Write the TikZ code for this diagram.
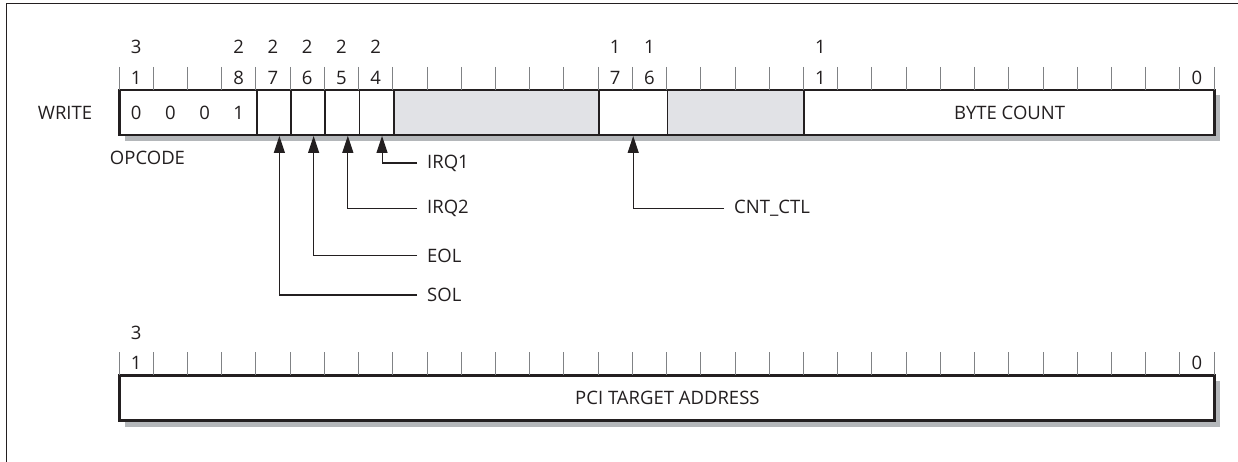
\documentclass[tikz,border=0pt]{standalone}
\usepackage{fontspec}
\setmainfont{Open Sans}
\usetikzlibrary{arrows.meta}
\definecolor{ink}{HTML}{231F20}
\definecolor{shade}{HTML}{B4B7BA}
\definecolor{resv}{HTML}{E1E2E6}
\definecolor{tickc}{HTML}{808285}
\tikzset{
  lbl/.style={font=\fontsize{18.5}{21}\selectfont, text=ink, inner sep=0pt},
  field/.style={draw=ink, line width=1.8pt, minimum height=45pt, inner sep=0pt, anchor=west, fill=white},
  resfield/.style={field, fill=resv},
  outline/.style={draw=ink, line width=2.8pt},
  shadowbox/.style={fill=shade},
  tick/.style={draw=tickc, line width=0.9pt},
  arr/.style={draw=ink, line width=1.1pt, -{Triangle[length=17pt,width=11pt]}},
}
\begin{document}
\begin{tikzpicture}[x=1pt,y=-1pt]
\useasboundingbox (0,0) rectangle (1238,462);
\fill[white] (0,0) rectangle (1238,462);
% frame
\draw[ink, line width=1.3pt] (6.5,462) -- (6.5,3.5) -- (1238,3.5);

% ---------- top register ----------
\fill[shadowbox] (125,95.5) rectangle (1220,141);
\node[field, minimum width=136.88pt] (op) at (119,112.5) {};
\node[field, minimum width=34.22pt] (b27) at (255.88,112.5) {};
\node[field, minimum width=34.22pt] (b26) at (290.10,112.5) {};
\node[field, minimum width=34.22pt] (b25) at (324.32,112.5) {};
\node[field, minimum width=34.22pt] (b24) at (358.54,112.5) {};
\node[resfield, minimum width=205.32pt] (r1) at (392.76,112.5) {};
\node[field, minimum width=68.44pt] (cc) at (598.08,112.5) {};
\node[resfield, minimum width=136.88pt] (r2) at (666.52,112.5) {};
\node[field, minimum width=410.64pt] (bc) at (803.40,112.5) {};
\draw[outline] (119,90) rectangle (1214.04,135);

\foreach \k in {0,...,32} {
  \draw[tick] ({119+\k*34.22},67) -- ++(0,23);
}

% bit numbers, top register
\foreach \b/\u/\l in {31/3/1, 28/2/8, 27/2/7, 26/2/6, 25/2/5, 24/2/4, 17/1/7, 16/1/6, 11/1/1} {
  \node[lbl] (tu\b) at ({119+(31-\b)*34.22+17.11},47) {\u};
  \node[lbl] (tl\b) at ({119+(31-\b)*34.22+17.11},78) {\l};
}
\node[lbl] (tl0) at ({119+31*34.22+17.11},78) {0};

% opcode digits
\node[lbl] (o31) at ({119+0*34.22+17.11},113) {0};
\node[lbl] (o30) at ({119+1*34.22+17.11},113) {0};
\node[lbl] (o29) at ({119+2*34.22+17.11},113) {0};
\node[lbl] (o28) at ({119+3*34.22+17.11},113) {1};

\node[lbl] (write) at (65,113) {WRITE};
\node[lbl] (opcode) at (147.5,158) {OPCODE};
\node[lbl] (bytecount) at (bc.center) {BYTE COUNT};

% labels with connectors
\node[lbl, anchor=west] (irq1) at (427,163) {IRQ1};
\node[lbl, anchor=west] (irq2) at (427,208.5) {IRQ2};
\node[lbl, anchor=west] (eol) at (427,255.5) {EOL};
\node[lbl, anchor=west] (sol) at (427,295) {SOL};
\node[lbl, anchor=west] (cntctl) at (734,208.5) {CNT\_CTL};

\draw[arr] ([xshift=-10pt]irq1.west) -| ([xshift=5.5pt]b24.south);
\draw[arr] ([xshift=-10pt]irq2.west) -| ([xshift=5.5pt]b25.south);
\draw[arr] ([xshift=-10pt]eol.west) -| ([xshift=5.5pt]b26.south);
\draw[arr] ([xshift=-10pt]sol.west) -| ([xshift=5.5pt]b27.south);
\draw[arr] ([xshift=-10pt]cntctl.west) -| (cc.south);

% ---------- bottom register ----------
\fill[shadowbox] (125,381) rectangle (1220,426.5);
\node[field, minimum width=1095.04pt, minimum height=45.7pt] (pci) at (119,398) {};
\draw[outline] (119,375.15) rectangle (1214.04,420.85);
\foreach \k in {0,...,32} {
  \draw[tick] ({119+\k*34.22},352) -- ++(0,23);
}
\node[lbl] (bu31) at ({119+17.11},333) {3};
\node[lbl] (bl31) at ({119+17.11},363) {1};
\node[lbl] (bl0) at ({119+31*34.22+17.11},363) {0};
\node[lbl] (pcitext) at (pci.center) {PCI TARGET ADDRESS};
\end{tikzpicture}
\end{document}
